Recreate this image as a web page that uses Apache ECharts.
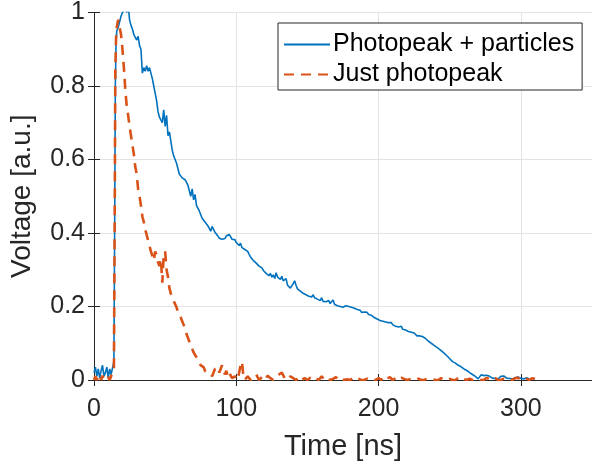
<!DOCTYPE html>
<html><head><meta charset="utf-8">
<script src="https://cdn.jsdelivr.net/npm/echarts@6/dist/echarts.min.js"></script>
<style>html,body{margin:0;padding:0;background:#fff}#c{width:592px;height:469px}</style>
</head><body><div id="c"></div>
<script>
const seriesNames = ["Photopeak + particles", "Just photopeak"];
const xTicks = [0, 100, 200, 300];
const yTicks = [0, 0.2, 0.4, 0.6, 0.8, 1];

const blueTime = [0,1,2,3,4,5,6,7,8,9,10,11,12,13,14,14.5,15,15.5,16,17,18,19,20,21,22,23,24,25,26,27,28,29,30,31,32,33,34,35,36,37,38,39,40,41,42,43,44,45,46,47,48,49,50,51,52,53,54,55,56,57,58,59,60,61,62,63,64,65,66,67,68,69,70,71,72,73,74,75,76,77,78,79,
80,81,82,83,84,85,86,87,88,89,90,91,92,93,94,95,96,97,98,99,100,101,102,103,104,105,106,107,108,109,110,111,112,113,114,115,116,117,118,119,120,121,122,123,124,125,126,127,128,129,130,131,132,133,134,135,136,137,138,139,140,141,142,143,144,145,146,147,148,149,150,151,152,153,154,155,156,157,158,159,160,161,162,163,164,165,166,167,168,169,170,171,172,173,174,175,176,177,178,179,180,181,182,183,184,185,186,187,188,189,190,191,192,193,194,195,196,197,198,199,200,201,202,203,204,205,206,207,208,209,210,211,212,213,214,215,216,217,218,219,220,221,222,223,224,225,226,227,228,229,230,231,232,233,234,235,236,237,238,239,240,
242,244,246,248,250,252,254,256,258,260,262,264,266,268,270,272,274,276,278,280,282,284,286,288,290,292,294,296,298,300,302,304,306];
const blueVolt = [0.02,0.035,0.01,0.03,0.005,0.025,0.04,0.01,0.02,0.035,0.005,0.03,0.015,0.01,0.05,0.4,0.8,0.92,0.95,0.96,0.975,0.99,1.0,0.995,1.01,1.0,1.02,0.98,0.965,0.955,0.94,0.945,0.925,0.935,0.91,0.9,0.835,0.85,0.84,0.855,0.84,0.85,0.835,0.82,0.8,0.78,0.76,0.73,0.715,0.72,0.7,0.735,0.69,0.72,0.665,0.675,0.65,0.625,0.61,0.615,0.59,0.575,0.56,0.565,0.55,0.545,0.545,0.55,0.53,0.515,0.5,0.52,0.49,0.505,0.475,0.47,0.46,0.455,0.44,0.445,0.43,0.425,
0.42,0.415,0.405,0.418,0.41,0.402,0.398,0.392,0.386,0.39,0.383,0.378,0.385,0.392,0.388,0.396,0.39,0.383,0.378,0.382,0.374,0.37,0.366,0.372,0.36,0.362,0.355,0.357,0.35,0.342,0.335,0.332,0.325,0.328,0.318,0.322,0.31,0.312,0.305,0.298,0.296,0.29,0.294,0.284,0.29,0.28,0.286,0.276,0.292,0.28,0.284,0.274,0.282,0.27,0.266,0.276,0.258,0.262,0.25,0.256,0.262,0.27,0.258,0.248,0.252,0.242,0.246,0.236,0.24,0.232,0.236,0.228,0.232,0.226,0.232,0.224,0.228,0.22,0.222,0.216,0.224,0.214,0.218,0.213,0.21,0.216,0.208,0.21,0.218,0.206,0.208,0.202,0.204,0.2,0.204,0.198,0.2,0.202,0.198,0.2,0.196,0.198,0.194,0.195,0.19,0.192,0.188,0.19,0.184,0.188,0.185,0.182,0.184,0.178,0.18,0.176,0.174,0.17,0.172,0.166,0.168,0.162,0.166,0.16,0.164,0.158,0.162,0.156,0.152,0.156,0.15,0.152,0.146,0.15,0.144,0.14,0.146,0.138,0.142,0.136,0.138,0.132,0.136,0.13,0.134,0.128,0.126,0.12,0.124,0.12,0.122,0.118,0.12,0.113,0.11,0.106,0.104,0.1,0.098,0.094,0.09,
0.086,0.08,0.073,0.066,0.058,0.05,0.046,0.04,0.036,0.03,0.026,0.02,0.015,0.01,0.003,0.014,0.012,0.013,0.01,0.005,0.004,0.003,0.01,0.011,0.005,0.004,0.003,0.006,0.008,0.005,0.003,0.006,0.003];

const orangeTime = [0,1,2,3,4,5,6,7,8,9,10,11,12,13,14,14.5,15,15.5,16,17,18,19,20,21,22,23,24,25,26,27,28,29,30,31,32,33,34,35,36,37,38,39,40,41,42,43,44,45,46,47,48,49,50,51,52,53,54,55,56,57,58,59,60,61,62,63,64,65,66,67,68,69,70,71,72,73,74,75,76,77,78,79,80,81,82,83,84,85,86,87,88,89,90,91,92,93,94,95,96,97,98,99,100,101,102,103,104,105,
106,108,110,112,114,116,118,120,122,124,126,128,130,132,134,136,138,140,142,144,146,148,150,152,154,156,158,160,162,164,166,168,170,172,174,176,178,180,182,184,186,188,190,192,194,196,198,200,202,204,206,208,210,212,214,216,218,220,222,224,226,228,230,232,234,236,238,240,242,244,246,248,250,252,254,256,258,260,262,264,266,268,270,272,274,276,278,280,282,284,286,288,290,292,294,296,298,300,302,304,306,308,310];
const orangeVolt = [0.0,0.01,0.0,0.005,0.015,0.0,0.012,0.0,0.003,0.0,0.008,0.0,0.01,0.005,0.03,0.4,0.85,0.93,0.96,0.98,0.975,0.94,0.9,0.85,0.79,0.745,0.72,0.69,0.665,0.64,0.615,0.58,0.56,0.52,0.5,0.475,0.445,0.43,0.41,0.395,0.39,0.365,0.35,0.355,0.325,0.35,0.34,0.32,0.31,0.33,0.265,0.34,0.35,0.3,0.28,0.25,0.235,0.225,0.215,0.21,0.198,0.185,0.18,0.17,0.16,0.15,0.14,0.125,0.115,0.105,0.1,0.085,0.075,0.07,0.062,0.055,0.05,0.04,0.038,0.035,0.025,0.03,0.02,0.015,0.018,0.01,0.02,0.03,0.025,0.035,0.02,0.03,0.04,0.035,0.015,0.025,0.01,0.02,0.018,0.005,0.0,0.01,0.005,0.0,0.005,0.04,0.05,0.01,
0.0,0.01,0.0,0.005,0.015,0.0,0.008,0.0,0.012,0.005,0.0,0.01,0.015,0.02,0.005,0.0,0.01,0.005,0.0,0.008,0.0,0.005,0.0,0.006,0.0,0.004,0.0,0.01,0.0,0.005,0.0,0.003,0.008,0.0,0.004,0.0,0.002,0.0,0.005,0.0,0.003,0.0,0.0,0.004,0.0,0.002,0.0,0.005,0.0,0.01,0.004,0.008,0.0,0.005,0.0,0.006,0.003,0.0,0.002,0.0,0.0,0.004,0.0,0.0,0.003,0.0,0.002,0.0,0.0,0.005,0.0,0.0,0.003,0.0,0.0,0.006,0.0,0.002,0.0,0.004,0.0,0.0,0.003,0.0,0.0,0.006,0.002,0.0,0.005,0.0,0.0,0.004,0.0,0.003,0.0,0.005,0.006,0.0,0.004,0.003,0.0,0.005,0.003];

function pairs(t, v) { return t.map((x, i) => [x, v[i]]); }

const FONT = '"Liberation Sans", Arial, Helvetica, sans-serif';
const AX = '#262626';
const chart = echarts.init(document.getElementById('c'), null, { renderer: 'canvas' });
const baseX = {
  type: 'value', min: 0, max: 350, interval: 100,
  axisLine: { show: true, lineStyle: { color: AX, width: 1 } },
  axisTick: { show: true, inside: true, length: 6, lineStyle: { color: AX } },
  splitLine: { show: false }
};
const baseY = {
  type: 'value', min: 0, max: 1, interval: 0.2,
  axisLine: { show: true, lineStyle: { color: AX, width: 1 } },
  axisTick: { show: true, inside: true, length: 6, lineStyle: { color: AX } },
  splitLine: { show: false }
};
chart.setOption({
  animation: false,
  backgroundColor: '#fff',
  grid: { left: 93, top: 10, width: 500, height: 370, containLabel: false },
  xAxis: [
    Object.assign({}, baseX, {
      position: 'bottom',
      name: 'Time [ns]', nameLocation: 'middle', nameGap: 52,
      nameTextStyle: { fontFamily: FONT, fontSize: 29, color: AX },
      axisLabel: { show: true, margin: 17, fontFamily: FONT, fontSize: 25, color: AX, showMaxLabel: false,
        formatter: v => xTicks.includes(v) ? String(v) : '' },
      splitLine: { show: true, lineStyle: { color: '#e3e3e3', width: 1 } }
    }),
    Object.assign({}, baseX, { position: 'top', axisLabel: { show: false } })
  ],
  yAxis: [
    Object.assign({}, baseY, {
      position: 'left',
      name: 'Voltage [a.u.]', nameLocation: 'middle', nameGap: 58, nameRotate: 90,
      nameTextStyle: { fontFamily: FONT, fontSize: 28, color: AX },
      axisLabel: { show: true, margin: 9, fontFamily: FONT, fontSize: 25, color: AX,
        formatter: v => yTicks.some(t => Math.abs(t - v) < 1e-9) ? String(Math.round(v * 10) / 10) : '' },
      splitLine: { show: true, lineStyle: { color: '#e3e3e3', width: 1 } }
    }),
    Object.assign({}, baseY, { position: 'right', axisLabel: { show: false } })
  ],
  legend: {
    show: true, orient: 'vertical', left: 278, top: 23, width: 303,
    backgroundColor: '#fff', borderColor: AX, borderWidth: 1,
    padding: [9, 8, 3, 5], itemWidth: 46, itemHeight: 14, itemGap: 5,
    itemStyle: { opacity: 0, borderWidth: 0 },
    textStyle: { fontFamily: FONT, fontSize: 25, color: '#000', padding: [0, 0, 0, -2] },
    data: seriesNames
  },
  series: [
    { name: seriesNames[0], type: 'line', xAxisIndex: 0, yAxisIndex: 0, data: pairs(blueTime, blueVolt),
      symbol: 'none', showSymbol: false, clip: true,
      lineStyle: { color: '#0072BD', width: 1.6 }, itemStyle: { color: '#0072BD' } },
    { name: seriesNames[1], type: 'line', xAxisIndex: 0, yAxisIndex: 0, data: pairs(orangeTime, orangeVolt),
      symbol: 'none', showSymbol: false, clip: true,
      lineStyle: { color: '#D95319', width: 2.6, type: [10, 7] }, itemStyle: { color: '#D95319' } }
  ]
});
</script>
</body></html>
